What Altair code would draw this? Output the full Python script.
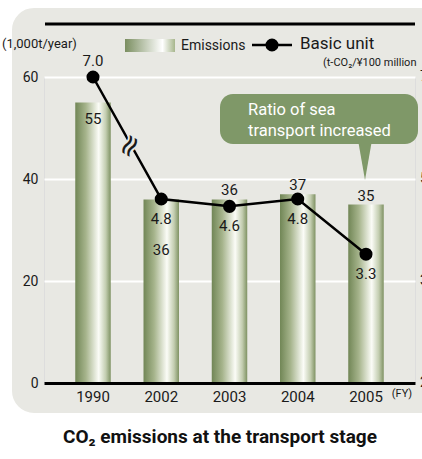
import altair as alt
import pandas as pd

years = ["1990", "2002", "2003", "2004", "2005"]
emissions = [55, 36, 36, 37, 35]
basic_unit = [7.0, 4.8, 4.6, 4.8, 3.3]
left_ticks = [0, 20, 40, 60]
right_tick_labels = ["2", "3", "5", "7"]

FONT = "Roboto"
INK = "#1a1a1a"
BG = "#e8e8e3"
GREEN = "#7f9868"

df = pd.DataFrame({"year": years, "emissions": emissions, "unit": basic_unit,
                   "unit_label": [f"{v:.1f}" for v in basic_unit]})
df_ticks = pd.DataFrame({"v": left_ticks, "lab": right_tick_labels})
one = pd.DataFrame({"k": [0]})

W, H = 371, 306

x = alt.X("year:N", sort=years,
          scale=alt.Scale(paddingInner=0.48, paddingOuter=0.458),
          axis=alt.Axis(title=None, labelAngle=0, labelFontSize=15, labelColor=INK,
                        labelFont=FONT, ticks=False, domainColor="#000000", domainWidth=3,
                        labelPadding=6, zindex=1, grid=False))
left_scale = alt.Scale(domain=[0, 60], nice=False)
left_axis = alt.Axis(title=None, values=left_ticks, labelFontSize=14, labelFont=FONT,
                     labelColor=INK, ticks=False, domain=False, grid=True, gridColor="#ffffff",
                     gridWidth=2, gridOpacity=1, labelPadding=6)
y_left = alt.Y("emissions:Q", scale=left_scale, axis=left_axis)

bar_grad = alt.Gradient(gradient="linear", x1=0, x2=1, y1=0, y2=0, stops=[
    alt.GradientStop(color="#718656", offset=0),
    alt.GradientStop(color="#a6b48c", offset=0.3),
    alt.GradientStop(color="#fbfcf7", offset=0.66),
    alt.GradientStop(color="#c3cdb0", offset=0.86),
    alt.GradientStop(color="#7f9263", offset=1),
])


def txt(s, xv, yv, size, **kw):
    opts = dict(font=FONT, fontSize=size, color=INK, align="left", baseline="middle")
    opts.update(kw)
    return alt.Chart(one).mark_text(text=s, **opts).encode(x=alt.value(xv), y=alt.value(yv))


top_line = alt.Chart(one).mark_rule(color="#000000", strokeWidth=3).encode(
    x=alt.value(1), x2=alt.value(371), y=alt.value(-53))

bars = alt.Chart(df).mark_bar(color=bar_grad).encode(x=x, y=y_left)

base_txt = dict(font=FONT, fontSize=15, color=INK, baseline="middle")
lab_inside = alt.Chart(df).transform_filter(alt.datum.year == "1990").mark_text(dy=16, **base_txt).encode(
    x=x, y=y_left, text="emissions:Q")
lab_deep = alt.Chart(df).transform_filter(alt.datum.year == "2002").mark_text(dy=51, **base_txt).encode(
    x=x, y=y_left, text="emissions:Q")
lab_above = alt.Chart(df).transform_filter(
    "datum.year != '1990' && datum.year != '2002'").mark_text(dy=-9, **base_txt).encode(
    x=x, y=y_left, text="emissions:Q")

right_labels = alt.Chart(df_ticks).mark_text(align="left", baseline="middle", fontSize=14, font=FONT,
                                             color=INK).encode(
    x=alt.value(376), y=alt.Y("v:Q", scale=left_scale, axis=left_axis), text="lab:N")

leg_grad = alt.Gradient(gradient="linear", x1=0, x2=1, y1=0, y2=0, stops=[
    alt.GradientStop(color="#7a8e60", offset=0),
    alt.GradientStop(color="#ffffff", offset=0.75),
    alt.GradientStop(color="#a7b68d", offset=1),
])
leg_rect = alt.Chart(one).mark_rect(color=leg_grad).encode(
    x=alt.value(81), x2=alt.value(131), y=alt.value(-38), y2=alt.value(-25))
leg_line = alt.Chart(one).mark_rule(color="#000000", strokeWidth=2.5).encode(
    x=alt.value(208), x2=alt.value(248), y=alt.value(-32))
leg_pt = alt.Chart(one).mark_point(filled=True, color="#000000", size=170, opacity=1).encode(
    x=alt.value(228), y=alt.value(-32))

bubble = alt.Chart(one).mark_rect(color=GREEN, cornerRadius=13).encode(
    x=alt.value(176), x2=alt.value(374), y=alt.value(17), y2=alt.value(67))
pointer = alt.Chart(one).mark_point(shape="M -0.35 -1 L 0.35 -1 L 0 1 Z", filled=True, color=GREEN,
                                    size=1600, opacity=1).encode(x=alt.value(321), y=alt.value(83))

left = alt.layer(
    top_line,
    leg_rect, txt("Emissions", 137, -31, 14), leg_line, leg_pt, txt("Basic unit", 256, -33, 17),
    txt("(t-CO₂/¥100 million", 279, -14, 11),
    bubble, pointer,
    txt("Ratio of sea", 204, 33, 16.5, color="#ffffff"),
    txt("transport increased", 204, 54, 16.5, color="#ffffff"),
    txt("(FY)", 358, 317, 11, align="center"),
    bars, lab_inside, lab_deep, lab_above, right_labels,
)

y_right = alt.Y("unit:Q", scale=alt.Scale(domain=[-0.2, 4.8, 7.0], range=[306, 122, 0]), axis=None)
line = alt.Chart(df).mark_line(color="#000000", strokeWidth=2.5).encode(x=x, y=y_right)
pts = alt.Chart(df).mark_point(filled=True, color="#000000", size=170, opacity=1).encode(x=x, y=y_right)
u_above = alt.Chart(df).transform_filter(alt.datum.year == "1990").mark_text(dy=-16, **base_txt).encode(
    x=x, y=y_right, text="unit_label:N")
u_below = alt.Chart(df).transform_filter(alt.datum.year != "1990").mark_text(dy=20, **base_txt).encode(
    x=x, y=y_right, text="unit_label:N")
brk_bg = alt.Chart(one).mark_text(text="≈", fontSize=30, color=BG, angle=300, font="DejaVu Sans",
                                  stroke=BG, strokeWidth=4).encode(x=alt.value(86), y=alt.value(69))
brk = alt.Chart(one).mark_text(text="≈", fontSize=30, color=INK, angle=300, font="DejaVu Sans").encode(
    x=alt.value(86), y=alt.value(69))

right = alt.layer(line, brk_bg, brk, pts, u_above, u_below)

# white surround that leaves a rounded grey panel visible
frame = alt.Chart(one).mark_rect(fill=None, stroke="#ffffff", strokeWidth=100, cornerRadius=72,
                                 filled=False).encode(
    x=alt.value(-82), x2=alt.value(700), y=alt.value(-119), y2=alt.value(386))
overlay = alt.layer(
    frame,
    txt("(1,000t/year)", -42, -33, 13),
    txt("CO₂ emissions at the transport stage", 176, 360, 19, align="center", fontWeight="bold",
        color="#111111"),
)

chart = alt.layer(left, right, overlay).resolve_scale(y="independent").properties(
    width=W, height=H,
    autosize=alt.AutoSizeParams(type="none"),
    padding={"left": 44, "top": 77, "right": 7, "bottom": 76},
).configure_view(stroke=None).configure(background=BG)

chart.save("out.html", embed_options={"renderer": "svg", "actions": False})
